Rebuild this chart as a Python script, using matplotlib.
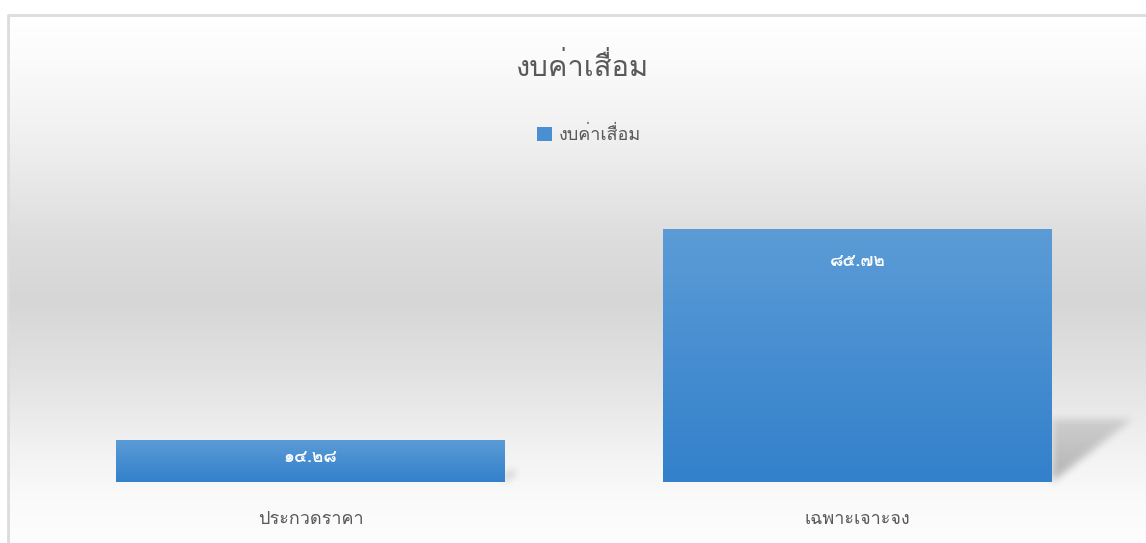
import numpy as np
import matplotlib
matplotlib.use("Agg")
import matplotlib.pyplot as plt
from matplotlib import font_manager
from matplotlib.ft2font import FT2Font
from matplotlib.patches import Rectangle

# ---------------- data ----------------
title = "งบค่าเสื่อม"
series_name = "งบค่าเสื่อม"
categories = ["ประกวดราคา", "เฉพาะเจาะจง"]
values = [14.28, 85.72]
value_labels = ["๑๔.๒๘", "๘๕.๗๒"]

# ---------------- font detection ----------------
thai_fams = []
for fe in font_manager.fontManager.ttflist:
    try:
        cm = FT2Font(fe.fname).get_charmap()
        if 0x0E07 in cm and 0x0E51 in cm:
            thai_fams.append(fe.name)
    except Exception:
        pass
fams = []
for n in thai_fams:
    if n not in fams:
        fams.append(n)
plt.rcParams['font.family'] = fams + ['DejaVu Sans']

W, H = 1146, 543
fig = plt.figure(figsize=(W / 100, H / 100), dpi=100)
fig.patch.set_facecolor("white")

# background axes in pixel coordinates (y down)
bg = fig.add_axes([0, 0, 1, 1], zorder=0)
bg.set_xlim(0, W)
bg.set_ylim(H, 0)
bg.axis("off")

# chart area gradient
y_keys = np.array([15, 60, 150, 240, 300, 380, 450, 500, 543])
c_keys = np.array([255, 251, 238, 221, 214, 227, 242, 250, 253]) / 255.0
yy = np.arange(15, H + 1)
col = np.interp(yy, y_keys, c_keys)
grad = np.repeat(col[:, None], 2, axis=1)
bg.imshow(np.dstack([grad, grad, grad]), extent=(9, W, H, 15), aspect="auto",
          interpolation="bilinear", zorder=0)
bg.plot([8, 8, W], [H, 15, 15], color="#dcdcdc", lw=2, solid_capstyle="butt", zorder=1)

# main axes
ax = fig.add_axes([37 / W, (H - 482) / H, (1131 - 37) / W, 295 / H], zorder=2)
ax.patch.set_alpha(0)
ax.set_xlim(-0.5, 1.5)
ax.set_ylim(0, 100)
ax.axis("off")

x = np.arange(len(categories))
bw = 0.711
bars = ax.bar(x, values, width=bw, color="none", edgecolor="none", zorder=3)

# shadows (rasterized, blurred) on background axes
yy_px, xx_px = np.mgrid[0:H, 0:W]
mask = np.zeros((H, W))
for b in bars:
    (pl, pb) = ax.transData.transform((b.get_x(), 0))
    (pr, pt) = ax.transData.transform((b.get_x() + b.get_width(), b.get_height()))
    pb, pt = H - pb, H - pt
    h = pb - pt
    dx, dy = 0.32 * h, 0.25 * h
    ys = yy_px + 0.5
    xs = xx_px + 0.5
    frac = (pb - ys) / dy
    inside = (frac >= 0) & (frac <= 1)
    left = pl + frac * dx
    right = pr + frac * dx
    m = inside & (xs >= left) & (xs <= right) & (xs > pr)
    fade = np.clip(1 - 0.55 * frac, 0, 1)
    mask = np.maximum(mask, m * fade)


def box_blur(a, r):
    k = np.ones(2 * r + 1) / (2 * r + 1)
    a = np.apply_along_axis(lambda v: np.convolve(v, k, mode="same"), 0, a)
    a = np.apply_along_axis(lambda v: np.convolve(v, k, mode="same"), 1, a)
    return a


mask = box_blur(box_blur(mask, 4), 4)
shadow = np.zeros((H, W, 4))
shadow[..., 3] = 0.28 * mask
bg.imshow(shadow, extent=(0, W, H, 0), aspect="auto", interpolation="bilinear", zorder=2)

# gradient bars
top_c = np.array([0x5b, 0x9c, 0xd6]) / 255.0
bot_c = np.array([0x33, 0x80, 0xcb]) / 255.0
t = np.linspace(0, 1, 256)[:, None]
bar_grad = (top_c[None, :] * (1 - t) + bot_c[None, :] * t)[:, None, :]
for b in bars:
    im = ax.imshow(bar_grad, extent=(b.get_x(), b.get_x() + b.get_width(), 0, b.get_height()),
                   aspect="auto", origin="upper", zorder=3, interpolation="bilinear")
    im.set_clip_path(b)
ax.set_xlim(-0.5, 1.5)
ax.set_ylim(0, 100)

# data labels (near top inside bar)
for b, lab in zip(bars, value_labels):
    _, p0 = ax.transData.transform((0, 0))
    _, p1 = ax.transData.transform((0, b.get_height()))
    off_px = min(32.0, 0.42 * (p1 - p0))
    ax.annotate(lab, (b.get_x() + b.get_width() / 2, b.get_height()),
                xytext=(0, -off_px * 72 / 100), textcoords="offset points",
                ha="center", va="center", color="white", fontsize=12.5,
                fontweight="bold", zorder=5)

# category labels
for xi, c in zip(x, categories):
    ax.annotate(c, (xi, 0), xytext=(0, -27), textcoords="offset points",
                ha="center", va="center", color="#595959", fontsize=13, zorder=5)

# title
fig.text(583 / W, 1 - 68 / H, title, ha="center", va="center", fontsize=21, color="#595959")

# legend
hnd = Rectangle((0, 0), 1, 1, facecolor="#4a8fd2", edgecolor="none")
fig.legend([hnd], [series_name], loc="center", bbox_to_anchor=(589 / W, 1 - 135 / H),
           frameon=False, fontsize=13, labelcolor="#595959", handlelength=0.8,
           handleheight=0.8, handletextpad=0.35)

fig.savefig("out.png", dpi=100)
